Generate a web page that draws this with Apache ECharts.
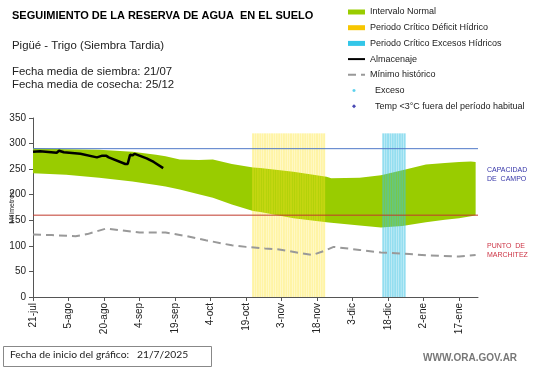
<!DOCTYPE html>
<html><head><meta charset="utf-8">
<script src="https://cdn.jsdelivr.net/npm/echarts@6/dist/echarts.min.js"></script>
<style>html,body{margin:0;padding:0;background:#fff}#c{width:541px;height:368px}</style>
</head><body><div id="c"></div>
<script>
// x values are days since 21/7/2025
const tickDays = [0,15,30,45,60,75,90,105,120,135,150,165,180];
const tickLabels = ['21-jul','5-ago','20-ago','4-sep','19-sep','4-oct','19-oct','3-nov','18-nov','3-dic','18-dic','2-ene','17-ene'];

const bandDays  = [0,14,28,42,52,56,62,70,76,84,93,96,110,124,126,138,147,156,166,174,180,185,187];
const bandUpper = [291,289,288,284,278,275,269,268,269,260,253,252,245,235,232,233,238,248,259,262,264,265,264];
const bandLower = [242,239,233,226,219,216,210,201,194,181,168,166,154,146,145,140,136,139,146,151,154,158,160];

const almDays   = [0,3,10,11,13,20,27,29,31,32,39,40,41,42,43,48,51,55];
const almValues = [284,285,282,286,283,280,273,276,276,273,260,260,278,277,280,271,264,252];

const minDays   = [0,8,18,23,31,38,45,56,65,73,84,90,98,104,118,123,127,138,147,159,168,180,187];
const minValues = [122,121,119,123,134,130,126,126,119,111,101,98,95,93,82,90,98,92,87,84,81,79,82];

const deficitDays = [93,94,95,96,97,98,99,100,101,102,103,104,105,106,107,108,109,110,111,112,113,114,115,116,117,118,119,120,121,122,123];
const excesoCritDays = [148,149,150,151,152,153,154,155,156,157];
const criticalTop = 320;

const excesoPoints = [];
const tempPoints = [];

const capacidadCampo = 290;
const puntoMarchitez = 160;
const lineRange = [0,188];

const chart = echarts.init(document.getElementById('c'), null, {renderer:'canvas'});
const F = 'Liberation Sans, Arial, sans-serif';
const pair = (xs, ys) => xs.map((x,i)=>[x, ys[i]]);

chart.setOption({
  animation:false,
  textStyle:{fontFamily:F},
  grid:{left:33, right:63, top:118, bottom:71, containLabel:false, outerBoundsMode:'none'},
  xAxis:{type:'value', min:0, max:188, interval:15,
    axisLine:{lineStyle:{color:'#555', width:1}},
    axisTick:{customValues:tickDays, length:4, lineStyle:{color:'#555'}},
    axisLabel:{customValues:tickDays, rotate:90, fontSize:10, color:'#222', margin:6, fontFamily:F,
      formatter:(v)=>{const i=tickDays.indexOf(Math.round(v)); return i>=0?tickLabels[i]:'';}},
    splitLine:{show:false}},
  yAxis:{type:'value', min:0, max:350, interval:50,
    name:'Milímetros', nameLocation:'middle', nameGap:17, nameRotate:90, nameMoveOverlap:false,
    nameTextStyle:{fontSize:7, color:'#222', fontFamily:F, padding:[0,0,0,0]},
    axisLine:{show:true, lineStyle:{color:'#555'}},
    axisTick:{show:true, length:4, lineStyle:{color:'#555'}},
    axisLabel:{fontSize:10, color:'#222', margin:7, fontFamily:F},
    splitLine:{show:false}},
  legend:{orient:'vertical', left:347, top:6.5, padding:0, itemWidth:17, itemHeight:5, itemGap:4.7,
    textStyle:{fontSize:9, color:'#222', fontFamily:F, lineHeight:11},
    data:[
      {name:'Intervalo Normal', icon:'rect'},
      {name:'Periodo Crítico Déficit Hídrico', icon:'rect', itemStyle:{color:'#f7c600', opacity:1}},
      {name:'Periodo Crítico Excesos Hídricos', icon:'rect', itemStyle:{color:'#33c6e8', opacity:1}},
      {name:'Almacenaje', itemStyle:{opacity:0}},
      {name:'Mínimo histórico', itemStyle:{opacity:0}},
      {name:'Exceso', icon:'path://M0,0L0.01,0L0,0.01Z M17,5L16.99,5L17,4.99Z M6,1L7.2,1.4L7.6,2.5L7.2,3.6L6,4L4.8,3.6L4.4,2.5L4.8,1.4Z',
        textStyle:{padding:[0,0,0,5]}},
      {name:'Temp <3°C fuera del período habitual', icon:'path://M0,0L0.01,0L0,0.01Z M17,5L16.99,5L17,4.99Z M6,0.5L8,2.5L6,4.5L4,2.5Z',
        textStyle:{padding:[0,0,0,5]}}
    ]},
  series:[
    {name:'Intervalo Normal', type:'custom', data:pair(bandDays,bandUpper), encode:{x:0,y:1},
      itemStyle:{color:'#99cc00'}, z:1, silent:true,
      renderItem:(params, api)=>{
        if (params.dataIndex !== 0) return null;
        const up = bandDays.map((d,i)=>api.coord([d,bandUpper[i]]));
        const lo = bandDays.map((d,i)=>api.coord([d,bandLower[i]])).reverse();
        return {type:'polygon', shape:{points:up.concat(lo)}, style:{fill:'#99cc00'}};
      }},
    {name:'Periodo Crítico Déficit Hídrico', type:'bar', barWidth:2.05, barGap:'-100%',
      data:deficitDays.map(d=>[d,criticalTop]), itemStyle:{color:'rgba(255,228,40,0.42)'}, z:2},
    {name:'Periodo Crítico Excesos Hídricos', type:'bar', barWidth:2.05, barGap:'-100%',
      data:excesoCritDays.map(d=>[d,criticalTop]), itemStyle:{color:'rgba(60,195,228,0.55)'}, z:2},
    {name:'Capacidad de campo', type:'line', data:lineRange.map(d=>[d,capacidadCampo]), symbol:'none', z:3, silent:true,
      lineStyle:{color:'#4f78c8', width:1}, itemStyle:{color:'#4f78c8'}},
    {name:'Punto de marchitez', type:'line', data:lineRange.map(d=>[d,puntoMarchitez]), symbol:'none', z:3, silent:true,
      lineStyle:{color:'#c0392b', width:1}, itemStyle:{color:'#c0392b'}},
    {name:'Mínimo histórico', type:'line', data:pair(minDays,minValues), symbol:'none', z:4,
      lineStyle:{color:'#999', width:2, type:[8,5]}, itemStyle:{color:'#999'}},
    {name:'Almacenaje', type:'line', data:pair(almDays,almValues), symbol:'none', z:5,
      lineStyle:{color:'#000', width:2.5}, itemStyle:{color:'#000'}},
    {name:'Exceso', type:'scatter', data:excesoPoints, symbol:'circle', symbolSize:4, itemStyle:{color:'#33c6e8'}},
    {name:'Temp <3°C fuera del período habitual', type:'scatter', data:tempPoints, symbol:'diamond', symbolSize:5, itemStyle:{color:'#1a1aa0'}}
  ],
  graphic:[
    {type:'text', left:12, top:10, style:{text:'SEGUIMIENTO DE LA RESERVA DE AGUA  EN EL SUELO', font:'bold 11px '+F, fill:'#000'}},
    {type:'text', left:12, top:40, style:{text:'Pigüé - Trigo (Siembra Tardia)', font:'11.4px '+F, fill:'#222'}},
    {type:'text', left:12, top:65, style:{text:'Fecha media de siembra: 21/07\nFecha media de cosecha: 25/12', font:'11.4px '+F, fill:'#222', lineHeight:13}},
    {type:'text', left:487, top:166, style:{text:'CAPACIDAD\nDE  CAMPO', font:'7px '+F, fill:'#3535a8', lineHeight:9}},
    {type:'text', left:487, top:242, style:{text:'PUNTO  DE\nMARCHITEZ', font:'7px '+F, fill:'#cc3344', lineHeight:9}},
    {type:'text', left:423, top:353, style:{text:'WWW.ORA.GOV.AR', font:'bold 10px '+F, fill:'#777'}},
    {type:'rect', shape:{x:3.5, y:346.5, width:208, height:20}, style:{fill:'#fff', stroke:'#888', lineWidth:1}},
    {type:'text', left:10, top:350, style:{text:'Fecha de inicio del gráfico:   21/7/2025', font:'10.3px Lato, sans-serif', fill:'#222'}}
  ]
});
</script></body></html>
